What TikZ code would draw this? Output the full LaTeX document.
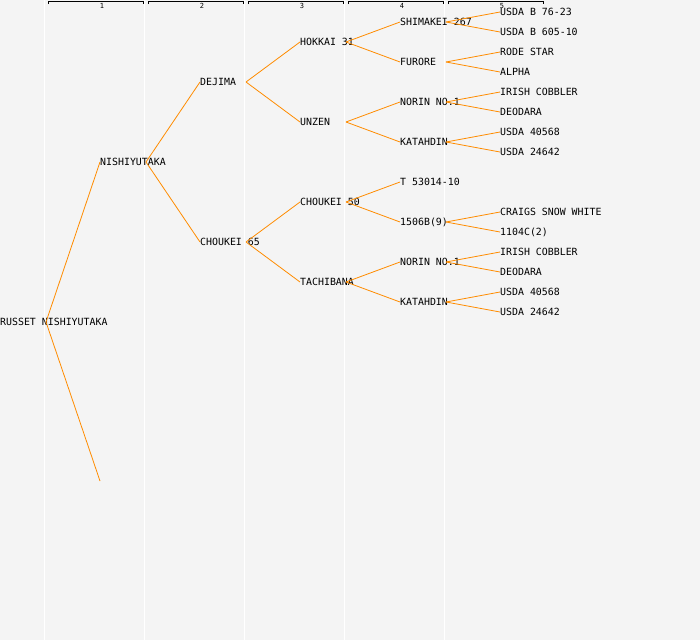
\documentclass[tikz,border=0pt]{standalone}
\usepackage{fontspec}
\newfontfamily\pmono{DejaVu Sans Mono}
\definecolor{bgc}{HTML}{F4F4F4}
\definecolor{linec}{HTML}{FF8C00}
\tikzset{
  txt/.style={font=\pmono\fontsize{9.9pt}{12pt}\selectfont, anchor=west, inner sep=0pt, text height=7.2pt, text depth=0pt, text=black},
  hdr/.style={font=\pmono\fontsize{7pt}{8pt}\selectfont, anchor=base, inner sep=0pt, text=black},
  conn/.style={draw=linec, line width=0.8pt},
  sep/.style={draw=white, line width=1.3pt},
  brk/.style={draw=black, line width=0.9pt}
}
\newcommand\pnode[4]{\node[txt] (#1) at (#2,#3) {#4}; \coordinate (#1o) at (#2+46,#3);}
\begin{document}
\begin{tikzpicture}[x=1pt,y=-1pt]
\useasboundingbox (0,0) rectangle (700,640);
\fill[bgc] (0,0) rectangle (700,640);
\foreach \c in {44.5,144.5,244.5,344.5,444.5} \draw[sep] (\c,0) -- (\c,640);
\foreach \i/\c in {1/45,2/145,3/245,4/345,5/445} {
  \draw[brk] (\c+3,4) -- (\c+3,1.5) -- (\c+98,1.5) -- (\c+98,4);
  \node[hdr] (h\i) at (\c+57,8.3) {\i};
}
% generation 1
\node[txt] (r) at (0,322) {RUSSET NISHIYUTAKA};
\coordinate (ro) at (46,322);
% generation 2
\pnode{a}{100}{162}{NISHIYUTAKA}
\coordinate (b) at (100,481);
% generation 3
\pnode{aa}{200}{82}{DEJIMA}
\pnode{ab}{200}{242}{CHOUKEI 65}
% generation 4
\pnode{aaa}{300}{42}{HOKKAI 31}
\pnode{aab}{300}{122}{UNZEN}
\pnode{aba}{300}{202}{CHOUKEI 50}
\pnode{abb}{300}{282}{TACHIBANA}
% generation 5
\pnode{aaaa}{400}{22}{SHIMAKEI 267}
\pnode{aaab}{400}{62}{FURORE}
\pnode{aaba}{400}{102}{NORIN NO.1}
\pnode{aabb}{400}{142}{KATAHDIN}
\pnode{abaa}{400}{182}{T 53014-10}
\pnode{abab}{400}{222}{1506B(9)}
\pnode{abba}{400}{262}{NORIN NO.1}
\pnode{abbb}{400}{302}{KATAHDIN}
% generation 6
\pnode{aaaaa}{500}{12}{USDA B 76-23}
\pnode{aaaab}{500}{32}{USDA B 605-10}
\pnode{aaaba}{500}{52}{RODE STAR}
\pnode{aaabb}{500}{72}{ALPHA}
\pnode{aabaa}{500}{92}{IRISH COBBLER}
\pnode{aabab}{500}{112}{DEODARA}
\pnode{aabba}{500}{132}{USDA 40568}
\pnode{aabbb}{500}{152}{USDA 24642}
\pnode{ababa}{500}{212}{CRAIGS SNOW WHITE}
\pnode{ababb}{500}{232}{1104C(2)}
\pnode{abbaa}{500}{252}{IRISH COBBLER}
\pnode{abbab}{500}{272}{DEODARA}
\pnode{abbba}{500}{292}{USDA 40568}
\pnode{abbbb}{500}{312}{USDA 24642}
% connectors
\draw[conn] (ro) -- (a.west);
\draw[conn] (ro) -- (b);
\foreach \p in {a,aa,ab,aaa,aab,aba,abb,aaaa,aaab,aaba,aabb,abab,abba,abbb} {
  \draw[conn] (\p o) -- (\p a.west);
  \draw[conn] (\p o) -- (\p b.west);
}
\end{tikzpicture}
\end{document}
